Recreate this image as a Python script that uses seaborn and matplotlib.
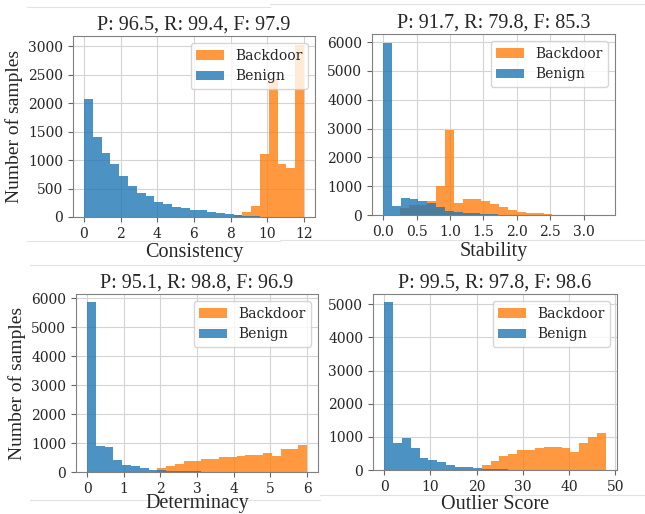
import numpy as np
import pandas as pd
import seaborn as sns
import matplotlib.pyplot as plt
from matplotlib.lines import Line2D
from matplotlib.ticker import MultipleLocator

# Consistency (25 bins on 0-12)
cons_edges = np.linspace(0, 12, 26)
cons_benign = [2080, 1400, 1130, 940, 715, 550, 430, 375, 260, 235, 180, 160,
               130, 115, 95, 70, 50, 35, 20, 10, 0, 0, 0, 0, 0]
cons_backdoor = [0, 0, 0, 0, 0, 0, 0, 0, 0, 0, 0, 0, 0, 0, 0, 0, 0,
                 40, 85, 185, 1110, 2400, 930, 870, 3030]

# Stability
stab_edges_benign = np.linspace(0, 3.3, 26)
stab_benign = [5980, 300, 600, 570, 500, 400, 280, 150, 100, 80, 60, 40, 25,
               15, 10, 8, 6, 5, 4, 3, 3, 2, 2, 1, 1]
stab_edges_backdoor = np.linspace(0.253, 2.665, 19)
stab_backdoor = [250, 330, 350, 500, 1000, 2950, 400, 548, 560, 470, 390, 290,
                 170, 110, 85, 60, 25, 12]

# Determinacy (25 bins on 0-6)
det_edges = np.linspace(0, 6, 26)
det_benign = [5850, 910, 850, 420, 250, 215, 135, 80, 60, 40, 30, 25, 20, 15,
              10, 0, 0, 0, 0, 0, 0, 0, 0, 0, 0]
det_backdoor = [0, 0, 0, 0, 0, 0, 0, 0, 135, 190, 280, 380, 380, 460, 460,
                505, 505, 550, 600, 595, 650, 550, 790, 810, 945]

# Outlier score (25 bins on 0-48)
out_edges = np.linspace(0, 48, 26)
out_benign = [5060, 800, 980, 660, 360, 300, 230, 150, 80, 80, 60, 40, 30, 20,
              10, 0, 0, 0, 0, 0, 0, 0, 0, 0, 0]
out_backdoor = [0, 0, 0, 0, 0, 0, 0, 0, 0, 0, 0, 150, 260, 410, 480, 600, 600,
                650, 680, 700, 660, 550, 800, 1000, 1110]

titles = ['P: 96.5, R: 99.4, F: 97.9', 'P: 91.7, R: 79.8, F: 85.3',
          'P: 95.1, R: 98.8, F: 96.9', 'P: 99.5, R: 97.8, F: 98.6']
xlabels = ['Consistency', 'Stability', 'Determinacy', 'Outlier Score']
xticks = [[0, 2, 4, 6, 8, 10, 12], [0.0, 0.5, 1.0, 1.5, 2.0, 2.5, 3.0],
          [0, 1, 2, 3, 4, 5, 6], [0, 10, 20, 30, 40, 50]]
ystep = [500, 1000, 1000, 1000]

sns.set_style('whitegrid', {'axes.edgecolor': '.5', 'grid.color': '.83',
                            'xtick.bottom': True, 'ytick.left': True,
                            'xtick.color': '.15', 'ytick.color': '.15'})
plt.rcParams['font.family'] = ['DejaVu Serif']

fig = plt.figure(figsize=(6.45, 5.14), dpi=100)
W, H = 645, 514
boxes = [(73, 36, 315, 217), (372, 34, 615, 215),
         (76, 294, 318, 472), (373, 294, 617, 470)]
axes = [fig.add_axes([l / W, 1 - b / H, (r - l) / W, (b - t) / H])
        for (l, t, r, b) in boxes]

panels = [
    (cons_edges, cons_benign, cons_edges, cons_backdoor),
    (stab_edges_benign, stab_benign, stab_edges_backdoor, stab_backdoor),
    (det_edges, det_benign, det_edges, det_backdoor),
    (out_edges, out_benign, out_edges, out_backdoor),
]
label_pads = [2, 2, -1, 1]


def hist_df(edges, counts):
    edges = np.asarray(edges)
    return pd.DataFrame({'x': (edges[:-1] + edges[1:]) / 2,
                         'n': np.asarray(counts, dtype=float)})


for i, ax in enumerate(axes):
    eb, vb, eo, vo = panels[i]
    sns.histplot(data=hist_df(eo, vo), x='x', weights='n', bins=list(eo), ax=ax,
                 color='#ff7f0e', alpha=0.8, linewidth=0, label='Backdoor')
    sns.histplot(data=hist_df(eb, vb), x='x', weights='n', bins=list(eb), ax=ax,
                 color='#1f77b4', alpha=0.8, linewidth=0, label='Benign')
    ax.set_xticks(xticks[i])
    ax.yaxis.set_major_locator(MultipleLocator(ystep[i]))
    ax.tick_params(labelsize=10, length=3.5, color='.4')
    ax.set_title(titles[i], fontsize=14.5, family='Liberation Serif', pad=5)
    ax.set_xlabel(xlabels[i], fontsize=14.5, family='Liberation Serif',
                  labelpad=label_pads[i])
    if i % 2 == 0:
        ax.set_ylabel('Number of samples', fontsize=14, family='Liberation Serif')
    else:
        ax.set_ylabel('')
    ax.legend(loc='upper right', fontsize=10)

# separator lines from the original figure layout
seps = [(27, 270, 7), (270, 645, 4), (27, 280, 241), (280, 645, 240),
        (30, 645, 265), (30, 320, 500), (320, 645, 495)]
for x0, x1, y in seps:
    fig.add_artist(Line2D([x0 / W, x1 / W], [1 - y / H, 1 - y / H],
                          color='#e2e2e2', linewidth=0.8, zorder=0))

fig.savefig('out.png', dpi=100)
